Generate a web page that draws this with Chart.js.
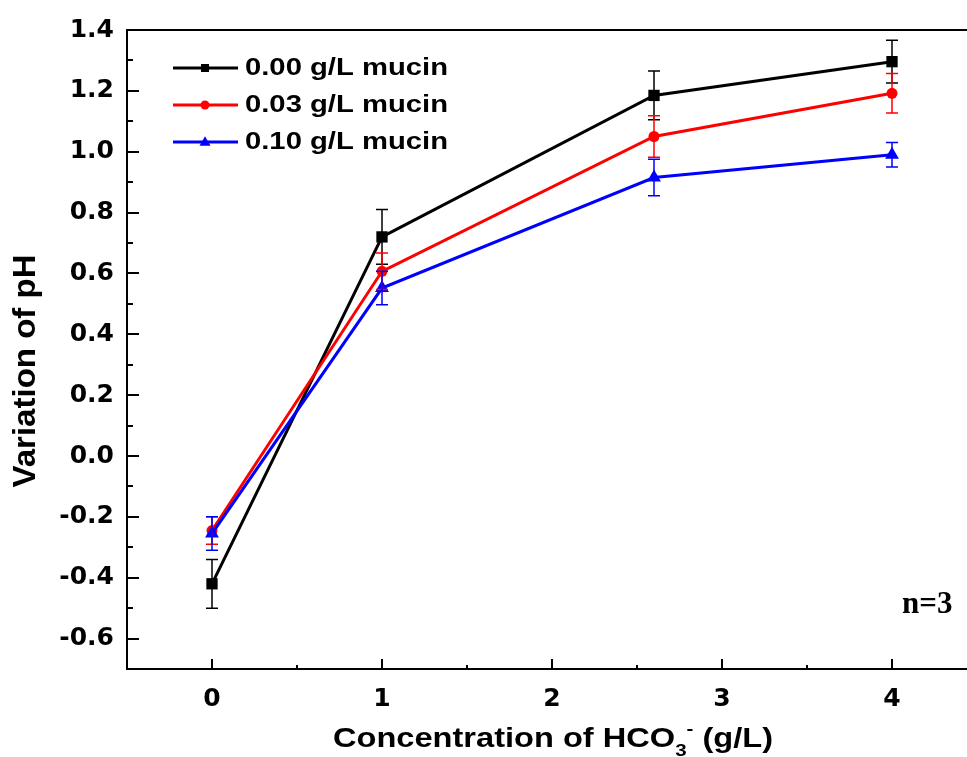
<!DOCTYPE html>
<html>
<head>
<meta charset="utf-8">
<title>Variation of pH vs HCO3- concentration</title>
<script src="https://cdn.jsdelivr.net/npm/chart.js@4/dist/chart.umd.min.js"></script>
<style>
  html, body { margin: 0; padding: 0; background: #fff; overflow: hidden; }
  #c { position: absolute; left: 0; top: 0; width: 985px; height: 757px; }
</style>
</head>
<body>
<canvas id="c" width="985" height="757"></canvas>
<script>
// HCO3- concentration (g/L)
const concentrations = [0, 1, 2.6, 4];

// Series labels
const seriesLabels = ['0.00 g/L mucin', '0.03 g/L mucin', '0.10 g/L mucin'];

// Mean variation of pH per series
const phMucin000 = [-0.42, 0.72, 1.185, 1.296];
const phMucin003 = [-0.245, 0.607, 1.05, 1.192];
const phMucin010 = [-0.255, 0.552, 0.915, 0.99];

// Standard deviations (n=3)
const sdMucin000 = [0.08, 0.09, 0.08, 0.07];
const sdMucin003 = [0.045, 0.06, 0.068, 0.065];
const sdMucin010 = [0.055, 0.055, 0.06, 0.04];

// Axis tick labels
const xTickValues = [0, 1, 2, 3, 4];
const yTickValues = [-0.6, -0.4, -0.2, 0.0, 0.2, 0.4, 0.6, 0.8, 1.0, 1.2, 1.4];

const colors = ['#000000', '#ff0000', '#0000ff'];
const pointStyles = ['rect', 'circle', 'triangle'];
const pointRadii = [8, 5.5, 8];
const means = [phMucin000, phMucin003, phMucin010];
const sds = [sdMucin000, sdMucin003, sdMucin010];

function toPoints(ys) {
  return concentrations.map((x, i) => ({ x: x, y: ys[i] }));
}

function drawStretched(ctx, text, x, y, font, sx) {
  ctx.save();
  ctx.font = font;
  ctx.translate(x, y);
  ctx.scale(sx, 1);
  ctx.fillText(text, 0, 0);
  const w = ctx.measureText(text).width * sx;
  ctx.restore();
  return w;
}

function measure(ctx, text, font) {
  ctx.save();
  ctx.font = font;
  const w = ctx.measureText(text).width;
  ctx.restore();
  return w;
}

function drawMarker(ctx, style, x, y, size, color) {
  ctx.save();
  ctx.fillStyle = color;
  ctx.beginPath();
  if (style === 'rect') {
    ctx.rect(x - size / 2, y - size / 2, size, size);
  } else if (style === 'circle') {
    ctx.arc(x, y, size / 2, 0, Math.PI * 2);
  } else {
    const h = size * 0.866;
    ctx.moveTo(x, y - h * 0.6);
    ctx.lineTo(x + size / 2, y + h * 0.4);
    ctx.lineTo(x - size / 2, y + h * 0.4);
    ctx.closePath();
  }
  ctx.fill();
  ctx.restore();
}

const decor = {
  id: 'decor',
  afterDatasetsDraw(chart) {
    // error bars
    const ctx = chart.ctx;
    const xs = chart.scales.x, ys = chart.scales.y;
    ctx.save();
    ctx.lineWidth = 1.5;
    for (let s = 0; s < means.length; s++) {
      ctx.strokeStyle = colors[s];
      for (let i = 0; i < concentrations.length; i++) {
        const px = xs.getPixelForValue(concentrations[i]);
        const top = ys.getPixelForValue(means[s][i] + sds[s][i]);
        const bot = ys.getPixelForValue(means[s][i] - sds[s][i]);
        ctx.beginPath();
        ctx.moveTo(px, top); ctx.lineTo(px, bot);
        ctx.moveTo(px - 6, top); ctx.lineTo(px + 6, top);
        ctx.moveTo(px - 6, bot); ctx.lineTo(px + 6, bot);
        ctx.stroke();
      }
    }
    ctx.restore();
  },
  afterDraw(chart) {
    const ctx = chart.ctx;
    const a = chart.chartArea;
    const xs = chart.scales.x, ys = chart.scales.y;
    ctx.save();
    ctx.strokeStyle = '#000';
    ctx.fillStyle = '#000';
    ctx.lineWidth = 2;

    // frame: left, bottom, top
    ctx.beginPath();
    ctx.moveTo(a.right + 5, a.top); ctx.lineTo(a.left, a.top);
    ctx.lineTo(a.left, a.bottom); ctx.lineTo(a.right + 5, a.bottom);
    ctx.stroke();

    // inward ticks on the left axis
    ctx.beginPath();
    for (let i = 0; i < yTickValues.length; i++) {
      const v = yTickValues[i];
      const py = Math.round(ys.getPixelForValue(v));
      ctx.moveTo(a.left, py); ctx.lineTo(a.left + 12, py);
      const mv = v + 0.1;
      if (mv < ys.max - 1e-9) {
        const my = Math.round(ys.getPixelForValue(mv));
        ctx.moveTo(a.left, my); ctx.lineTo(a.left + 6, my);
      }
    }
    // inward ticks on the bottom axis
    for (let i = 0; i < xTickValues.length; i++) {
      const v = xTickValues[i];
      const px = Math.round(xs.getPixelForValue(v));
      ctx.moveTo(px, a.bottom); ctx.lineTo(px, a.bottom - 10);
      const mx = Math.round(xs.getPixelForValue(v + 0.5));
      ctx.moveTo(mx, a.bottom); ctx.lineTo(mx, a.bottom - 4);
    }
    ctx.stroke();

    // legend
    const legendRows = [68, 105, 142];
    const legendFont = 'bold 23px "Liberation Sans", Arial, sans-serif';
    const legendSx = 203 / measure(ctx, seriesLabels[0], legendFont);
    const legendSizes = [8, 9, 11];
    for (let s = 0; s < seriesLabels.length; s++) {
      const ry = legendRows[s];
      ctx.strokeStyle = colors[s];
      ctx.lineWidth = 3;
      ctx.beginPath();
      ctx.moveTo(173, ry); ctx.lineTo(238, ry);
      ctx.stroke();
      drawMarker(ctx, pointStyles[s], 205, ry, legendSizes[s], colors[s]);
      ctx.fillStyle = '#000';
      ctx.textAlign = 'left';
      ctx.textBaseline = 'alphabetic';
      drawStretched(ctx, seriesLabels[s], 245, ry + 7, legendFont, legendSx);
    }

    // x axis title with sub/superscript
    ctx.fillStyle = '#000';
    ctx.textAlign = 'left';
    ctx.textBaseline = 'alphabetic';
    const big = 'bold 27px "Liberation Sans", Arial, sans-serif';
    const small = 'bold 17px "Liberation Sans", Arial, sans-serif';
    const segs = [
      { t: 'Concentration of HCO', f: big, dy: 0 },
      { t: '3', f: small, dy: 9 },
      { t: '-', f: small, dy: -13 },
      { t: ' (g/L)', f: big, dy: 0 }
    ];
    let total = 0;
    segs.forEach(sg => { total += measure(ctx, sg.t, sg.f); });
    const titleSx = 440 / total;
    let cx = 333;
    const baseY = 747;
    segs.forEach(sg => {
      cx += drawStretched(ctx, sg.t, cx, baseY + sg.dy, sg.f, titleSx);
    });

    // y axis title
    const yFont = 'bold 31px "Liberation Sans", Arial, sans-serif';
    const yText = 'Variation of pH';
    const ySx = 233 / measure(ctx, yText, yFont);
    ctx.save();
    ctx.translate(35, 371);
    ctx.rotate(-Math.PI / 2);
    ctx.font = yFont;
    ctx.scale(ySx, 1);
    ctx.textAlign = 'center';
    ctx.fillText(yText, 0, 0);
    ctx.restore();

    // sample size note
    ctx.font = 'bold 31px "Liberation Serif", "Times New Roman", serif';
    ctx.textAlign = 'left';
    ctx.fillText('n=3', 902, 613);

    ctx.restore();
  }
};

const tickFont = { family: '"DejaVu Sans", sans-serif', weight: 'bold', size: 25 };

new Chart(document.getElementById('c'), {
  type: 'line',
  data: {
    datasets: seriesLabels.map((label, s) => ({
      label: label,
      data: toPoints(means[s]),
      borderColor: colors[s],
      backgroundColor: colors[s],
      borderWidth: 3,
      pointStyle: pointStyles[s],
      pointRadius: pointRadii[s],
      pointBorderWidth: 0,
      pointBackgroundColor: colors[s],
      tension: 0,
      order: 2 - s
    }))
  },
  options: {
    responsive: false,
    devicePixelRatio: 1,
    animation: false,
    layout: { padding: { left: 0, top: 30, right: 3, bottom: 0 } },
    plugins: { legend: { display: false }, tooltip: { enabled: false } },
    scales: {
      x: {
        type: 'linear',
        min: -0.5,
        max: 4.5,
        afterBuildTicks: s => { s.ticks = xTickValues.map(v => ({ value: v })); },
        afterFit: s => { s.height = 88; },
        grid: { display: false },
        border: { display: false },
        ticks: {
          font: tickFont,
          color: '#000',
          padding: 7,
          maxRotation: 0,
          autoSkip: false,
          callback: v => String(v)
        }
      },
      y: {
        type: 'linear',
        min: -0.7,
        max: 1.4,
        afterBuildTicks: s => { s.ticks = yTickValues.map(v => ({ value: v })); },
        afterFit: s => { s.width = 127; },
        grid: { display: false },
        border: { display: false },
        ticks: {
          font: tickFont,
          color: '#000',
          padding: 5,
          autoSkip: false,
          callback: v => v.toFixed(1)
        }
      }
    }
  },
  plugins: [decor]
});
</script>
</body>
</html>
